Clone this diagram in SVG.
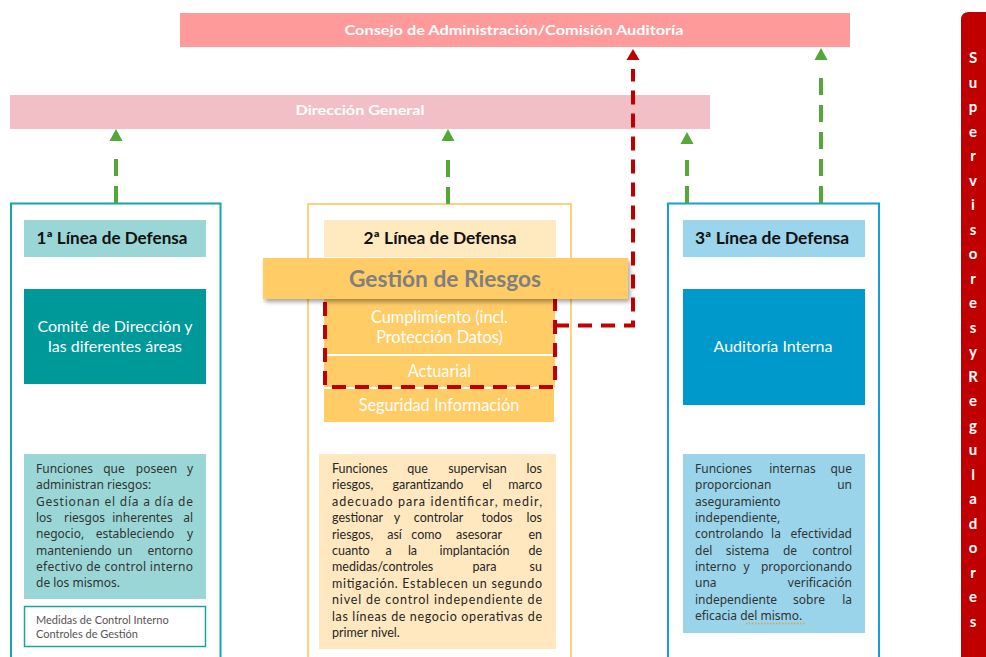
<svg xmlns="http://www.w3.org/2000/svg" width="986" height="657" viewBox="0 0 986 657">
<style>
.lato{font-family:Lato,"Open Sans","Liberation Sans",sans-serif}
.bartxt{font-family:Lato,"Liberation Sans",sans-serif;font-weight:700;font-size:14px;fill:#fff;text-anchor:middle}
.hdr{font-family:Lato,"Liberation Sans",sans-serif;font-weight:700;font-size:17px;fill:#111;text-anchor:middle}
.wt{font-family:Lato,"Liberation Sans",sans-serif;font-size:16px;fill:#fff;text-anchor:middle}
.or{font-family:Lato,"Liberation Sans",sans-serif;font-size:16.3px;fill:#fff;text-anchor:middle}
.dsc{font-family:"Noto Sans","Liberation Sans",sans-serif;font-size:12px;fill:#333}
.dsm{font-family:Lato,"Liberation Sans",sans-serif;font-size:12.5px;fill:#262626}
.m{text-anchor:middle}
.e{text-anchor:end}
.s{text-anchor:start}
.g{fill:none;stroke:#55A838;stroke-width:4;stroke-dasharray:17 10}
.r{fill:none;stroke:#C00000;stroke-width:4;stroke-dasharray:14 9}
.vt{font-family:Lato,"Liberation Sans",sans-serif;font-weight:700;font-size:15px;fill:#fff;text-anchor:middle}
</style>
<defs>
<marker id="ag" markerUnits="userSpaceOnUse" markerWidth="30" markerHeight="14" refX="0" refY="0" viewBox="0 -7 30 14" orient="auto" overflow="visible">
<path d="M16,-6.5 L28,0 L16,6.5 Z" fill="#55A838"/>
</marker>
<marker id="ar" markerUnits="userSpaceOnUse" markerWidth="22" markerHeight="14" refX="0" refY="0" viewBox="0 -7 22 14" orient="auto" overflow="visible">
<path d="M9,-6.5 L20,0 L9,6.5 Z" fill="#C00000"/>
</marker>
<filter id="sh" x="-5%" y="-20%" width="112%" height="160%">
<feDropShadow dx="2" dy="3" stdDeviation="2.2" flood-color="#000" flood-opacity="0.35"/>
</filter>
</defs>
<rect width="986" height="657" fill="#fff"/>

<g id="n-consejo">
<rect x="180" y="13" width="670" height="34" fill="#FF9A9A"/>
<text class="bartxt" x="514" y="35" textLength="339" lengthAdjust="spacingAndGlyphs">Consejo de Administración/Comisión Auditoría</text>
</g>

<g id="n-direccion">
<rect x="10" y="95" width="700" height="34" fill="#F2BFC7"/>
<text class="bartxt" x="360" y="115" textLength="129" lengthAdjust="spacingAndGlyphs">Dirección General</text>
</g>

<g id="n-supervisores">
<path d="M986,12 H969 Q961,12 961,20 V657 H986 Z" fill="#C00000"/>
<text class="vt"><tspan x="973" y="63">S</tspan><tspan x="973" y="87.5">u</tspan><tspan x="973" y="112">p</tspan><tspan x="973" y="136.5">e</tspan><tspan x="973" y="161">r</tspan><tspan x="973" y="185.5">v</tspan><tspan x="973" y="210">i</tspan><tspan x="973" y="234.5">s</tspan><tspan x="973" y="259">o</tspan><tspan x="973" y="283.5">r</tspan><tspan x="973" y="308">e</tspan><tspan x="973" y="332.5">s</tspan><tspan x="973" y="357">y</tspan><tspan x="973" y="381.5">R</tspan><tspan x="973" y="406">e</tspan><tspan x="973" y="430.5">g</tspan><tspan x="973" y="455">u</tspan><tspan x="973" y="479.5">l</tspan><tspan x="973" y="504">a</tspan><tspan x="973" y="528.5">d</tspan><tspan x="973" y="553">o</tspan><tspan x="973" y="577.5">r</tspan><tspan x="973" y="602">e</tspan><tspan x="973" y="626.5">s</tspan></text>
</g>

<g id="n-linea1">
<rect x="11" y="203.5" width="209.5" height="470" fill="#fff" stroke="#19A4A4" stroke-width="2"/>
<rect x="24" y="220" width="182" height="37" fill="#9AD6D6"/>
<text class="hdr" x="112" y="244" textLength="151" lengthAdjust="spacingAndGlyphs">1ª Línea de Defensa</text>
</g>
<g id="n-comite">
<rect x="24" y="289" width="182" height="95" fill="#009999"/>
<text class="wt" x="115" y="332">Comité de Dirección y</text>
<text class="wt" x="115" y="352">las diferentes áreas</text>
</g>
<g id="n-desc1">
<rect x="24" y="454" width="182" height="145" fill="#9AD6D6"/>
<text class="dsc"><tspan class="s" x="36" y="473">Funciones</tspan><tspan class="m" x="114" y="473">que</tspan><tspan class="m" x="156.5" y="473">poseen</tspan><tspan class="e" x="193" y="473">y</tspan></text>
<text class="dsc" x="36" y="489">administran riesgos:</text>
<text class="dsc" x="36" y="506" textLength="157" lengthAdjust="spacing">Gestionan el día a día de</text>
<text class="dsc"><tspan class="s" x="36" y="522">los</tspan><tspan class="m" x="84.5" y="522">riesgos</tspan><tspan class="m" x="142.5" y="522">inherentes</tspan><tspan class="e" x="193" y="522">al</tspan></text>
<text class="dsc"><tspan class="s" x="36" y="538">negocio,</tspan><tspan class="m" x="135" y="538">estableciendo</tspan><tspan class="e" x="193" y="538">y</tspan></text>
<text class="dsc"><tspan class="s" x="36" y="555">manteniendo</tspan><tspan class="m" x="125" y="555">un</tspan><tspan class="e" x="193" y="555">entorno</tspan></text>
<text class="dsc" x="36" y="571" textLength="157" lengthAdjust="spacing">efectivo de control interno</text>
<text class="dsc" x="36" y="587">de los mismos.</text>
</g>
<g id="n-medidas">
<rect x="24.5" y="606.5" width="181" height="40" fill="#fff" stroke="#19A4A4" stroke-width="1.5"/>
<text class="lato" x="36" y="624" font-size="11" fill="#555">Medidas de Control Interno</text>
<text class="lato" x="36" y="637.5" font-size="11" fill="#555">Controles de Gestión</text>
</g>

<g id="n-linea2">
<rect x="308" y="204" width="263" height="470" fill="#fff" stroke="#FFD27A" stroke-width="2"/>
<rect x="324" y="220" width="232" height="37" fill="#FFE9BF"/>
<text class="hdr" x="440" y="244" textLength="153" lengthAdjust="spacingAndGlyphs">2ª Línea de Defensa</text>
</g>
<g id="n-cumplimiento">
<rect x="324" y="299" width="231" height="55" fill="#FFCC66"/>
<text class="or" x="439.5" y="323">Cumplimiento (incl.</text>
<text class="or" x="439.5" y="343">Protección Datos)</text>
</g>
<g id="n-actuarial">
<rect x="324" y="356" width="231" height="31" fill="#FFCC66"/>
<text class="or" x="439.5" y="377">Actuarial</text>
</g>
<g id="n-seguridad">
<rect x="324" y="389" width="230" height="33" fill="#FFCC66"/>
<text class="or" x="439" y="410.5">Seguridad Información</text>
</g>
<g id="n-desc2">
<rect x="319" y="454" width="237" height="195" fill="#FFE8BF"/>
<text class="dsm"><tspan class="s" x="332" y="473">Funciones</tspan><tspan class="m" x="417.5" y="473">que</tspan><tspan class="m" x="477.5" y="473">supervisan</tspan><tspan class="e" x="542" y="473">los</tspan></text>
<text class="dsm"><tspan class="s" x="332" y="489.4">riesgos,</tspan><tspan class="m" x="428" y="489.4">garantizando</tspan><tspan class="m" x="487" y="489.4">el</tspan><tspan class="e" x="542" y="489.4">marco</tspan></text>
<text class="dsm" x="332" y="505.8" textLength="210" lengthAdjust="spacing">adecuado para identificar, medir,</text>
<text class="dsm"><tspan class="s" x="332" y="522.2">gestionar</tspan><tspan class="m" x="397" y="522.2">y</tspan><tspan class="m" x="438.5" y="522.2">controlar</tspan><tspan class="m" x="497" y="522.2">todos</tspan><tspan class="e" x="542" y="522.2">los</tspan></text>
<text class="dsm"><tspan class="s" x="332" y="538.6">riesgos,</tspan><tspan class="m" x="394.5" y="538.6">así</tspan><tspan class="m" x="426.5" y="538.6">como</tspan><tspan class="m" x="479" y="538.6">asesorar</tspan><tspan class="e" x="542" y="538.6">en</tspan></text>
<text class="dsm"><tspan class="s" x="332" y="555">cuanto</tspan><tspan class="m" x="388.5" y="555">a</tspan><tspan class="m" x="412.5" y="555">la</tspan><tspan class="m" x="474.5" y="555">implantación</tspan><tspan class="e" x="542" y="555">de</tspan></text>
<text class="dsm"><tspan class="s" x="332" y="571.4">medidas/controles</tspan><tspan class="m" x="484.5" y="571.4">para</tspan><tspan class="e" x="542" y="571.4">su</tspan></text>
<text class="dsm" x="332" y="587.8" textLength="210" lengthAdjust="spacing">mitigación. Establecen un segundo</text>
<text class="dsm" x="332" y="604.2" textLength="210" lengthAdjust="spacing">nivel de control independiente de</text>
<text class="dsm" x="332" y="620.6" textLength="210" lengthAdjust="spacing">las líneas de negocio operativas de</text>
<text class="dsm" x="332" y="637">primer nivel.</text>
</g>

<g id="n-linea3">
<rect x="668" y="203.5" width="211" height="470" fill="#fff" stroke="#169FD2" stroke-width="2"/>
<rect x="683" y="220" width="182" height="37" fill="#9AD5EB"/>
<text class="hdr" x="772" y="244" textLength="154" lengthAdjust="spacingAndGlyphs">3ª Línea de Defensa</text>
</g>
<g id="n-auditoria">
<rect x="683" y="289" width="182" height="116" fill="#0099CC"/>
<text class="wt" x="773" y="352">Auditoría Interna</text>
</g>
<g id="n-desc3">
<rect x="683" y="454" width="182" height="179" fill="#99D4EA"/>
<text class="dsc"><tspan class="s" x="695" y="473">Funciones</tspan><tspan class="m" x="792.5" y="473">internas</tspan><tspan class="e" x="852" y="473">que</tspan></text>
<text class="dsc"><tspan class="s" x="695" y="489">proporcionan</tspan><tspan class="e" x="852" y="489">un</tspan></text>
<text class="dsc" x="695" y="506">aseguramiento</text>
<text class="dsc" x="695" y="522">independiente,</text>
<text class="dsc"><tspan class="s" x="695" y="538">controlando</tspan><tspan class="m" x="776" y="538">la</tspan><tspan class="e" x="852" y="538">efectividad</tspan></text>
<text class="dsc"><tspan class="s" x="695" y="555">del</tspan><tspan class="m" x="747.5" y="555">sistema</tspan><tspan class="m" x="790" y="555">de</tspan><tspan class="e" x="852" y="555">control</tspan></text>
<text class="dsc"><tspan class="s" x="695" y="571">interno</tspan><tspan class="m" x="746.5" y="571">y</tspan><tspan class="e" x="852" y="571">proporcionando</tspan></text>
<text class="dsc"><tspan class="s" x="695" y="587">una</tspan><tspan class="e" x="852" y="587">verificación</tspan></text>
<text class="dsc"><tspan class="s" x="695" y="604">independiente</tspan><tspan class="m" x="809" y="604">sobre</tspan><tspan class="e" x="852" y="604">la</tspan></text>
<text class="dsc" x="695" y="620">eficacia del mismo.</text>
<line x1="746" y1="623.5" x2="805" y2="623.5" stroke="#D4A54A" stroke-width="1.5" stroke-dasharray="1.5 1.5"/>
</g>

<g id="highlight">
<rect x="325" y="297" width="230" height="90" class="r"/>
</g>

<g id="n-gestion">
<rect x="263" y="258" width="365" height="41" fill="#FFCC66" filter="url(#sh)"/>
<text class="lato" x="445" y="287" font-size="22" font-weight="700" fill="#7F7F7F" text-anchor="middle" textLength="192" lengthAdjust="spacingAndGlyphs">Gestión de Riesgos</text>
</g>

<g id="connectors">
<path class="g" d="M116,203 V157" marker-end="url(#ag)"/>
<path class="g" d="M448,204 V157" marker-end="url(#ag)"/>
<path class="g" d="M687,203 V160" marker-end="url(#ag)"/>
<path class="g" d="M821,203 V76" marker-end="url(#ag)"/>
<path class="r" d="M555,325.5 H633 V69" marker-end="url(#ar)"/>
</g>
</svg>
